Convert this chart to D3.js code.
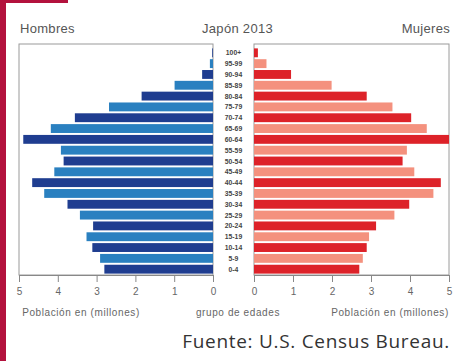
<!DOCTYPE html>
<html>
<head>
<meta charset="utf-8">
<script src="https://cdn.jsdelivr.net/npm/d3@7"></script>
<style>
  html, body { margin: 0; padding: 0; background: #fff; }
  svg { display: block; }
</style>
</head>
<body>
<svg id="chart" width="463" height="361"></svg>
<script>
const ageGroups = ["100+","95-99","90-94","85-89","80-84","75-79","70-74","65-69","60-64","55-59","50-54","45-49","40-44","35-39","30-34","25-29","20-24","15-19","10-14","5-9","0-4"];
const hombres = [0.02,0.08,0.28,0.99,1.84,2.68,3.56,4.18,4.89,3.92,3.85,4.09,4.66,4.35,3.75,3.43,3.09,3.26,3.11,2.91,2.80];
const mujeres = [0.10,0.32,0.95,1.99,2.89,3.55,4.03,4.43,5.0,3.92,3.81,4.11,4.79,4.60,3.98,3.60,3.13,2.95,2.89,2.79,2.70];
const tickValues = [0,1,2,3,4,5];
const titleText = "Japón 2013";
const leftLabel = "Hombres";
const rightLabel = "Mujeres";
const axisTitle = "Población en (millones)";
const centerTitle = "grupo de edades";
const sourceText = "Fuente: U.S. Census Bureau.";

(function () {
const svg = d3.select("#chart");
const font = "'Liberation Sans', Arial, sans-serif";

// decorative crimson frame
svg.append("rect").attr("x",0).attr("y",0).attr("width",6).attr("height",361).attr("fill","#b3123d");
svg.append("rect").attr("x",0).attr("y",0).attr("width",68).attr("height",3).attr("fill","#b3123d");

const xL = d3.scaleLinear().domain([0,5]).range([213,19]);
const xR = d3.scaleLinear().domain([0,5]).range([254,449]);
const y = d3.scaleBand().domain(ageGroups).range([47.3,274.7]).paddingInner(0.18).paddingOuter(0.1);

const yTop = 44, yBottom = 275;

// panel frames
[[xL(5), xL(0)], [xR(0), xR(5)]].forEach(([a,b]) => {
  svg.append("rect").attr("x",a).attr("y",yTop).attr("width",b-a).attr("height",yBottom-yTop)
    .attr("fill","none").attr("stroke","#9a9a9a").attr("stroke-width",1);
});

const leftColors = ["#1f3d90","#2a80c0"];
const rightColors = ["#dd2229","#f4917e"];

svg.append("g").selectAll("rect").data(hombres).join("rect")
  .attr("x", d => xL(d)).attr("y", (d,i) => y(ageGroups[i]))
  .attr("width", d => xL(0) - xL(d)).attr("height", y.bandwidth())
  .attr("fill", (d,i) => leftColors[i % 2]);

svg.append("g").selectAll("rect").data(mujeres).join("rect")
  .attr("x", xR(0)).attr("y", (d,i) => y(ageGroups[i]))
  .attr("width", d => xR(d) - xR(0)).attr("height", y.bandwidth())
  .attr("fill", (d,i) => rightColors[i % 2]);

// age labels
svg.append("g").selectAll("text").data(ageGroups).join("text")
  .attr("x", 233.5).attr("y", d => y(d) + y.bandwidth()/2)
  .attr("text-anchor","middle").attr("dominant-baseline","central")
  .attr("font-family", font).attr("font-size", 6.8).attr("font-weight","bold")
  .attr("fill","#444").text(d => d);

// axes
function styleAxis(g) {
  g.selectAll("path.domain").attr("stroke","#888");
  g.selectAll(".tick line").attr("stroke","#888");
  g.selectAll(".tick text").attr("fill","#666").attr("font-size",10).attr("font-family",font);
}
svg.append("g").attr("transform",`translate(0,${yBottom})`)
  .call(d3.axisBottom(xL).tickValues(tickValues).tickFormat(d3.format("d")).tickSize(7).tickPadding(6).tickSizeOuter(0))
  .call(styleAxis);
svg.append("g").attr("transform",`translate(0,${yBottom})`)
  .call(d3.axisBottom(xR).tickValues(tickValues).tickFormat(d3.format("d")).tickSize(7).tickPadding(6).tickSizeOuter(0))
  .call(styleAxis);

// headers
const hdr = (t,x,anchor) => svg.append("text").attr("x",x).attr("y",33)
  .attr("text-anchor",anchor).attr("font-family",font).attr("font-size",13)
  .attr("letter-spacing",0.3).attr("fill","#555").text(t);
hdr(leftLabel, 20, "start");
hdr(titleText, 237.5, "middle");
hdr(rightLabel, 450, "end");

// bottom labels
const bl = (t,x) => svg.append("text").attr("x",x).attr("y",316)
  .attr("text-anchor","middle").attr("font-family",font).attr("font-size",10)
  .attr("letter-spacing",0.6).attr("fill","#666").text(t);
bl(axisTitle, 81);
bl(centerTitle, 238);
bl(axisTitle, 390);

svg.append("text").attr("x",450).attr("y",348).attr("text-anchor","end")
  .attr("font-family","'Open Sans', 'DejaVu Sans', sans-serif").attr("font-size",19)
  .attr("letter-spacing",0.7).attr("fill","#333").text(sourceText);
})();
</script>
</body>
</html>
